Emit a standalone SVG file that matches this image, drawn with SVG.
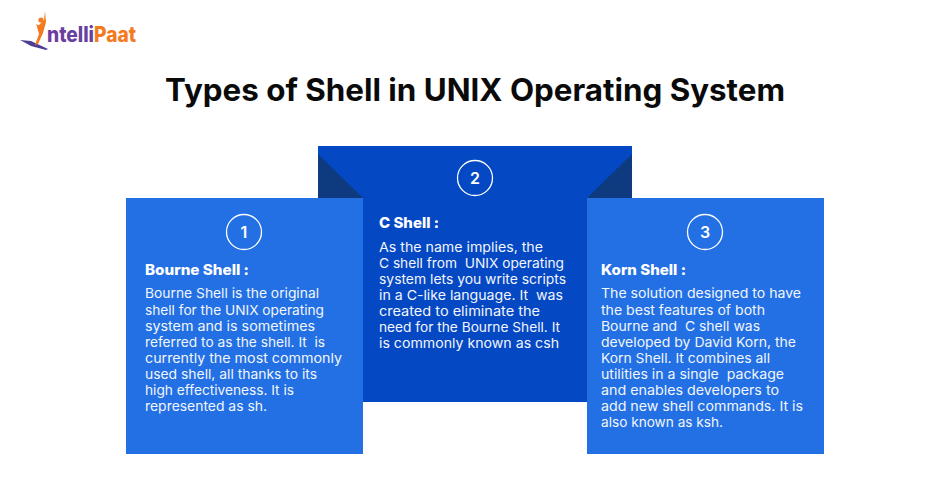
<svg xmlns="http://www.w3.org/2000/svg" width="950" height="501" viewBox="0 0 950 501">
<style>
text{font-family:"Inter","Open Sans","Liberation Sans",sans-serif;white-space:pre}
.b{font-size:13.4px;fill:#f2f6fd}
.h{font-size:14.5px;font-weight:800;fill:#fff}
.n{font-size:16px;font-weight:600;fill:#fff;text-anchor:middle}
.c{fill:none;stroke:#fff;stroke-width:1.3}
.p{fill:#6a3fa0}
</style>
<rect width="950" height="501" fill="#fff"/>
<g id="logo">
<path d="M20 40 L31 41 L48 49 L46 50 L31 46 Z" fill="#4f3d98"/>
<path d="M45 11 L46 22 L43 33 L38 44 L35 45 L39 34 L37 27 L40 24 L44 20 Z M36 24 L40 26 L38 29 Z" fill="#f47a1f"/>
<circle cx="41" cy="20" r="2.6" fill="#f47a1f"/>
<text x="47" y="42" class="p" font-size="21" font-weight="800" textLength="47" lengthAdjust="spacingAndGlyphs">ntelli</text>
<text x="94" y="42" fill="#f47a1f" font-size="21" font-weight="800" textLength="42" lengthAdjust="spacingAndGlyphs">Paat</text>
</g>
<text id="title" x="165" y="101" font-size="31" font-weight="650" fill="#0a0a0a" textLength="620" lengthAdjust="spacingAndGlyphs">Types of Shell in UNIX Operating System</text>
<g id="node-2">
<rect x="318" y="146" width="314" height="256" fill="#0548c4"/>
<path d="M318 154 L363 198 L318 198 Z M632 154 L587 198 L632 198 Z" fill="#0e3a80"/>
<circle class="c" cx="475" cy="178" r="17.5"/>
<text class="n" x="475" y="184">2</text>
<text class="h" x="379" y="228" textLength="60" lengthAdjust="spacingAndGlyphs">C Shell :</text>
<g class="b">
<text x="379" y="252" textLength="164" lengthAdjust="spacingAndGlyphs">As the name implies, the</text>
<text x="379" y="268" textLength="185" lengthAdjust="spacingAndGlyphs">C shell from  UNIX operating</text>
<text x="379" y="284" textLength="187" lengthAdjust="spacingAndGlyphs">system lets you write scripts</text>
<text x="379" y="300" textLength="184" lengthAdjust="spacingAndGlyphs">in a C-like language. It  was</text>
<text x="379" y="316" textLength="161" lengthAdjust="spacingAndGlyphs">created to eliminate the</text>
<text x="379" y="332" textLength="181" lengthAdjust="spacingAndGlyphs">need for the Bourne Shell. It</text>
<text x="379" y="348" textLength="180" lengthAdjust="spacingAndGlyphs">is commonly known as csh</text>
</g>
</g>
<g id="node-1">
<rect x="126" y="198" width="237" height="256" fill="#2270e4"/>
<circle class="c" cx="244" cy="232" r="17.5"/>
<text class="n" x="244" y="238">1</text>
<text class="h" x="145" y="275" textLength="104" lengthAdjust="spacingAndGlyphs">Bourne Shell :</text>
<g class="b">
<text x="145" y="298" textLength="174" lengthAdjust="spacingAndGlyphs">Bourne Shell is the original</text>
<text x="145" y="315" textLength="179" lengthAdjust="spacingAndGlyphs">shell for the UNIX operating</text>
<text x="145" y="331" textLength="170" lengthAdjust="spacingAndGlyphs">system and is sometimes</text>
<text x="145" y="347" textLength="180" lengthAdjust="spacingAndGlyphs">referred to as the shell. It  is</text>
<text x="145" y="363" textLength="197" lengthAdjust="spacingAndGlyphs">currently the most commonly</text>
<text x="145" y="379" textLength="172" lengthAdjust="spacingAndGlyphs">used shell, all thanks to its</text>
<text x="145" y="395" textLength="149" lengthAdjust="spacingAndGlyphs">high effectiveness. It is</text>
<text x="145" y="411" textLength="122" lengthAdjust="spacingAndGlyphs">represented as sh.</text>
</g>
</g>
<g id="node-3">
<rect x="587" y="198" width="237" height="256" fill="#2270e4"/>
<circle class="c" cx="705" cy="232" r="17.5"/>
<text class="n" x="705" y="238">3</text>
<text class="h" x="601" y="275" textLength="85" lengthAdjust="spacingAndGlyphs">Korn Shell :</text>
<g class="b">
<text x="601" y="298" textLength="200" lengthAdjust="spacingAndGlyphs">The solution designed to have</text>
<text x="601" y="315" textLength="164" lengthAdjust="spacingAndGlyphs">the best features of both</text>
<text x="601" y="331" textLength="159" lengthAdjust="spacingAndGlyphs">Bourne and  C shell was</text>
<text x="601" y="347" textLength="195" lengthAdjust="spacingAndGlyphs">developed by David Korn, the</text>
<text x="601" y="363" textLength="169" lengthAdjust="spacingAndGlyphs">Korn Shell. It combines all</text>
<text x="601" y="379" textLength="183" lengthAdjust="spacingAndGlyphs">utilities in a single  package</text>
<text x="601" y="395" textLength="178" lengthAdjust="spacingAndGlyphs">and enables developers to</text>
<text x="601" y="411" textLength="202" lengthAdjust="spacingAndGlyphs">add new shell commands. It is</text>
<text x="601" y="427" textLength="122" lengthAdjust="spacingAndGlyphs">also known as ksh.</text>
</g>
</g>
</svg>
